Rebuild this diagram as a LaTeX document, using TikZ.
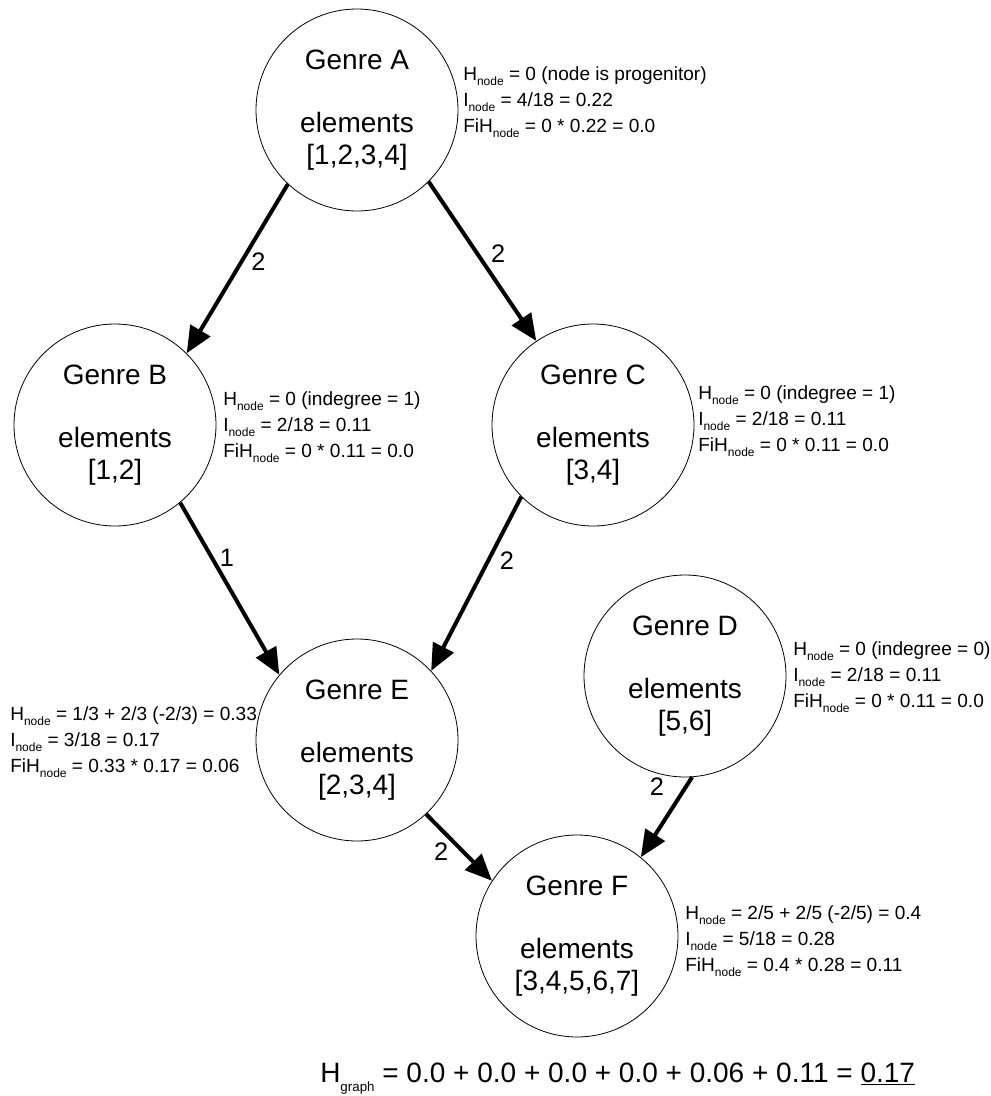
\documentclass[tikz,border=0pt]{standalone}
\usepackage{fontspec}
\setmainfont{Liberation Sans}
\usetikzlibrary{arrows.meta}
\newcommand{\sub}[1]{\raisebox{-3.5pt}{\fontsize{9}{9}\selectfont #1}}

\begin{document}
\begin{tikzpicture}[x=0.75pt,y=-0.75pt,
    genre/.style={draw,circle,line width=0.6pt,minimum size=151.5pt,inner sep=0pt,align=center,font=\fontsize{21}{23.6}\selectfont},
    note/.style={anchor=west,inner sep=0pt,align=left,font=\fontsize{14.3}{19.5}\selectfont},
    link/.style={-{Triangle[length=20pt,width=17pt]},line width=3pt},
    wt/.style={inner sep=0pt,font=\fontsize{19}{19}\selectfont}]
\useasboundingbox (0,0) rectangle (991,1096);
% genres
\node[genre] (A) at (357,110) {Genre A\\~\\elements\\{[1,2,3,4]}};
\node[genre] (B) at (115,425) {Genre B\\~\\elements\\{[1,2]}};
\node[genre] (C) at (593,425) {Genre C\\~\\elements\\{[3,4]}};
\node[genre] (D) at (685,676) {Genre D\\~\\elements\\{[5,6]}};
\node[genre] (E) at (357,740) {Genre E\\~\\elements\\{[2,3,4]}};
\node[genre] (F) at (577,936) {Genre F\\~\\elements\\{[3,4,5,6,7]}};
% weights
\draw[link] (A.227) -- node[wt,pos=.46,right=6pt] (wAB) {2} (B.45);
\draw[link] (A.315) -- node[wt,pos=.45,right=9pt] (wAC) {2} (C.124);
\draw[link] (B.310) -- node[wt,pos=.32,right=4.5pt] (wBE) {1} (E.140);
\draw[link] (C.225) -- node[wt,pos=.37,right=7.5pt] (wCE) {2} (E.43);
\draw[link] (E.313) -- node[wt,pos=.57,left=10pt] (wEF) {2} (F.147);
\draw[link] (D.274) -- node[wt,pos=.12,left=15pt] (wDF) {2} (F.51);
% entropy notes
\node[note] (nA) at (463,102) {H\sub{node} = 0 (node is progenitor)\\I\sub{node} = 4/18 = 0.22\\FiH\sub{node} = 0 * 0.22 = 0.0};
\node[note] (nB) at (223,427) {H\sub{node} = 0 (indegree = 1)\\I\sub{node} = 2/18 = 0.11\\FiH\sub{node} = 0 * 0.11 = 0.0};
\node[note] (nC) at (698,421) {H\sub{node} = 0 (indegree = 1)\\I\sub{node} = 2/18 = 0.11\\FiH\sub{node} = 0 * 0.11 = 0.0};
\node[note] (nD) at (793,677) {H\sub{node} = 0 (indegree = 0)\\I\sub{node} = 2/18 = 0.11\\FiH\sub{node} = 0 * 0.11 = 0.0};
\node[note] (nE) at (10,742) {H\sub{node} = 1/3 + 2/3 (-2/3) = 0.33\\I\sub{node} = 3/18 = 0.17\\FiH\sub{node} = 0.33 * 0.17 = 0.06};
\node[note] (nF) at (685,941) {H\sub{node} = 2/5 + 2/5 (-2/5) = 0.4\\I\sub{node} = 5/18 = 0.28\\FiH\sub{node} = 0.4 * 0.28 = 0.11};
% total
\node[anchor=base west,inner sep=0pt,font=\fontsize{21}{21}\selectfont] (total) at (320,1082)
  {H\raisebox{-7pt}{\fontsize{10}{10}\selectfont graph} = 0.0 + 0.0 + 0.0 + 0.0 + 0.06 + 0.11 = \underline{0.17}};
\end{tikzpicture}
\end{document}
